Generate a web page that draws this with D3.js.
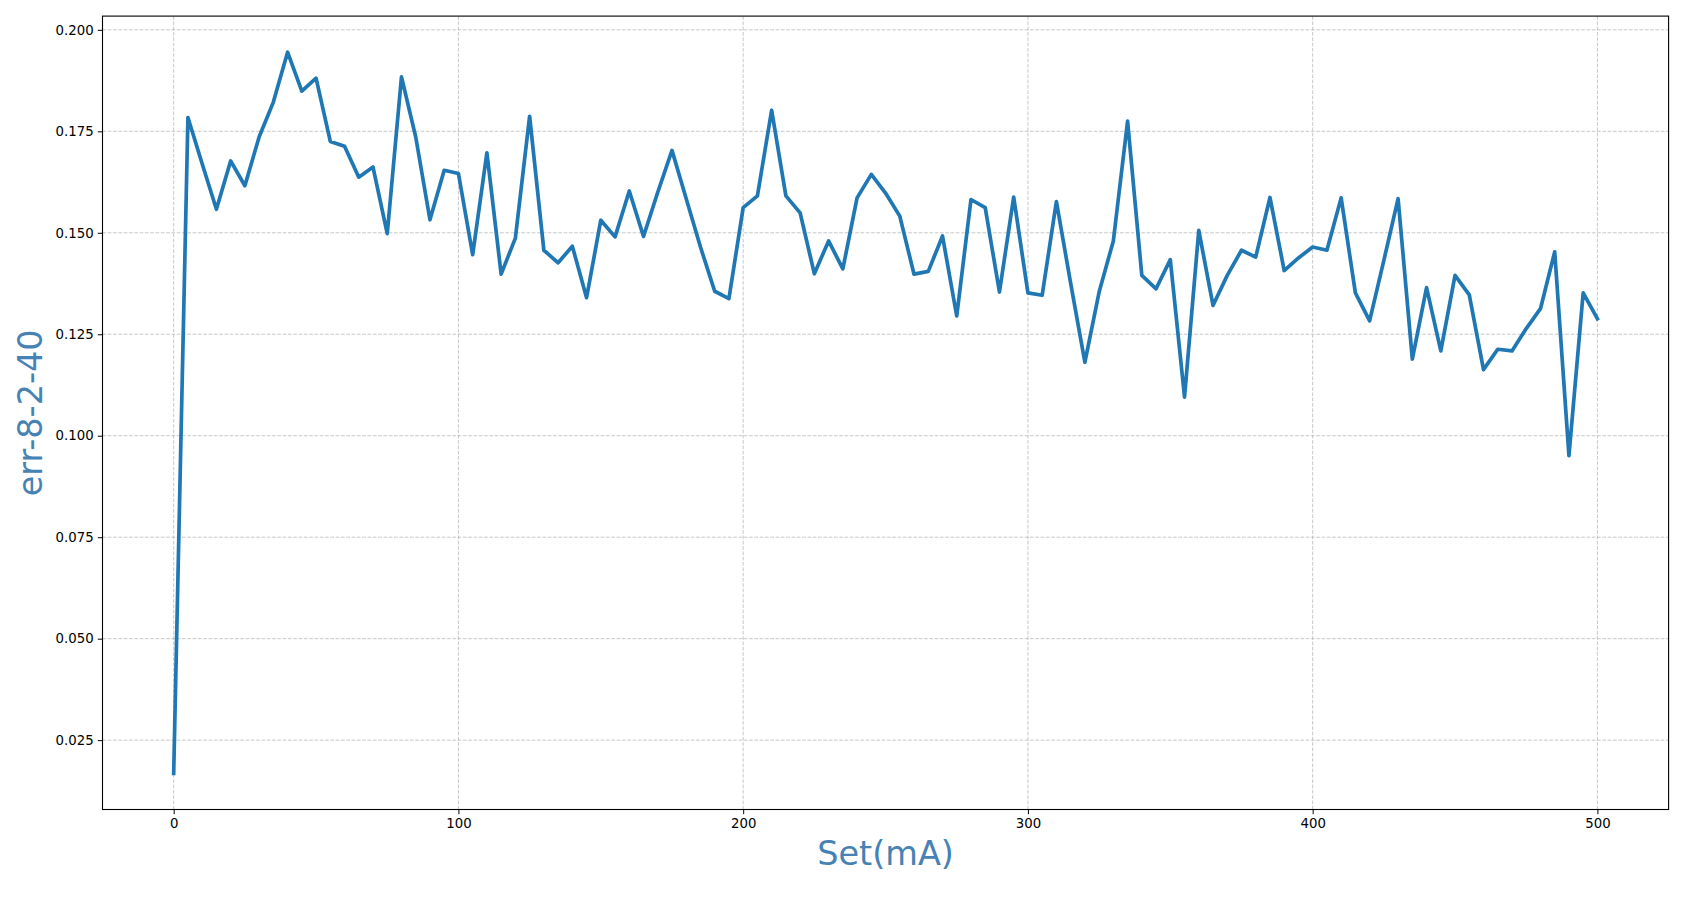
<!DOCTYPE html>
<html>
<head>
<meta charset="utf-8">
<script src="https://cdn.jsdelivr.net/npm/d3@7"></script>
<style>
  html, body { margin: 0; padding: 0; background: #fff; }
  svg { display: block; }
  text { font-family: "DejaVu Sans", sans-serif; }
</style>
</head>
<body>
<svg id="chart" width="1688" height="897"></svg>
<script>
// ---- data ----
const setCurrent = d3.range(0, 501, 5); // Set(mA): 0,5,...,500
const errValues = [
  0.0168, 0.1784, 0.1670, 0.1558, 0.1677, 0.1616, 0.1736, 0.1822, 0.1945, 0.1849,
  0.1881, 0.1725, 0.1713, 0.1637, 0.1662, 0.1498, 0.1884, 0.1736, 0.1532, 0.1654,
  0.1646, 0.1446, 0.1697, 0.1398, 0.1487, 0.1787, 0.1457, 0.1426, 0.1467, 0.1340,
  0.1531, 0.1490, 0.1603, 0.1491, 0.1600, 0.1703, 0.1584, 0.1465, 0.1356, 0.1338,
  0.1562, 0.1591, 0.1802, 0.1591, 0.1549, 0.1399, 0.1480, 0.1411, 0.1586, 0.1644,
  0.1598, 0.1541, 0.1398, 0.1405, 0.1492, 0.1295, 0.1582, 0.1562, 0.1354, 0.1588,
  0.1352, 0.1346, 0.1577, 0.1376, 0.1181, 0.1354, 0.1480, 0.1775, 0.1395, 0.1362,
  0.1434, 0.1095, 0.1506, 0.1321, 0.1395, 0.1457, 0.1440, 0.1587, 0.1407, 0.1438,
  0.1465, 0.1457, 0.1586, 0.1352, 0.1283, 0.1432, 0.1584, 0.1189, 0.1365, 0.1209,
  0.1395, 0.1347, 0.1163, 0.1213, 0.1209, 0.1264, 0.1313, 0.1453, 0.0951, 0.1352,
  0.1288
];
const xTicks = [0, 100, 200, 300, 400, 500];
const yTicks = [0.025, 0.050, 0.075, 0.100, 0.125, 0.150, 0.175, 0.200];
const xLabel = "Set(mA)";
const yLabel = "err-8-2-40";

// ---- layout ----
const plot = { left: 102.5, right: 1668.6, top: 16.1, bottom: 809.5 };
const svg = d3.select("#chart");

const yMin = d3.min(errValues), yMax = d3.max(errValues);
const yPad = (yMax - yMin) * 0.05;
const x = d3.scaleLinear().domain([-25, 525]).range([plot.left, plot.right]);
const y = d3.scaleLinear().domain([yMin - yPad, yMax + yPad]).range([plot.bottom, plot.top]);

// grid
const grid = svg.append("g");
grid.selectAll("line.gx").data(xTicks).join("line")
  .attr("x1", d => x(d)).attr("x2", d => x(d))
  .attr("y1", plot.top).attr("y2", plot.bottom)
  .attr("stroke", "#b0b0b0").attr("stroke-opacity", 0.7)
  .attr("stroke-width", 1).attr("stroke-dasharray", "3.7,1.6");
grid.selectAll("line.gy").data(yTicks).join("line")
  .attr("x1", plot.left).attr("x2", plot.right)
  .attr("y1", d => y(d)).attr("y2", d => y(d))
  .attr("stroke", "#b0b0b0").attr("stroke-opacity", 0.7)
  .attr("stroke-width", 1).attr("stroke-dasharray", "3.7,1.6");

// line
const data = setCurrent.map((s, i) => ({ s, v: errValues[i] }));
svg.append("path")
  .datum(data)
  .attr("fill", "none")
  .attr("stroke", "#1f77b4")
  .attr("stroke-width", 3.7)
  .attr("stroke-linejoin", "round")
  .attr("stroke-linecap", "square")
  .attr("d", d3.line().x(d => x(d.s)).y(d => y(d.v)));

// axes
const xAxis = d3.axisBottom(x).tickValues(xTicks).tickFormat(d3.format("d"))
  .tickSize(4.7).tickPadding(4.2);
const yAxis = d3.axisLeft(y).tickValues(yTicks).tickFormat(d3.format(".3f"))
  .tickSize(4.7).tickPadding(4.2);

const gx = svg.append("g").attr("transform", `translate(0,${plot.bottom})`).call(xAxis);
const gy = svg.append("g").attr("transform", `translate(${plot.left},0)`).call(yAxis);
[gx, gy].forEach(g => {
  g.select(".domain").remove();
  g.selectAll(".tick line").attr("stroke", "#000").attr("stroke-width", 1);
  g.selectAll(".tick text").attr("fill", "#000").attr("font-size", "13.3px")
    .attr("font-family", "DejaVu Sans, sans-serif");
});

// frame
svg.append("rect")
  .attr("x", plot.left).attr("y", plot.top)
  .attr("width", plot.right - plot.left).attr("height", plot.bottom - plot.top)
  .attr("fill", "none").attr("stroke", "#000").attr("stroke-width", 1.1);

// axis labels
svg.append("text")
  .attr("x", (plot.left + plot.right) / 2).attr("y", 865)
  .attr("text-anchor", "middle")
  .attr("font-size", "33.5px").attr("fill", "#4682b4")
  .text(xLabel);
svg.append("text")
  .attr("transform", `translate(42,${(plot.top + plot.bottom) / 2}) rotate(-90)`)
  .attr("text-anchor", "middle")
  .attr("font-size", "33.5px").attr("fill", "#4682b4")
  .text(yLabel);
</script>
</body>
</html>
